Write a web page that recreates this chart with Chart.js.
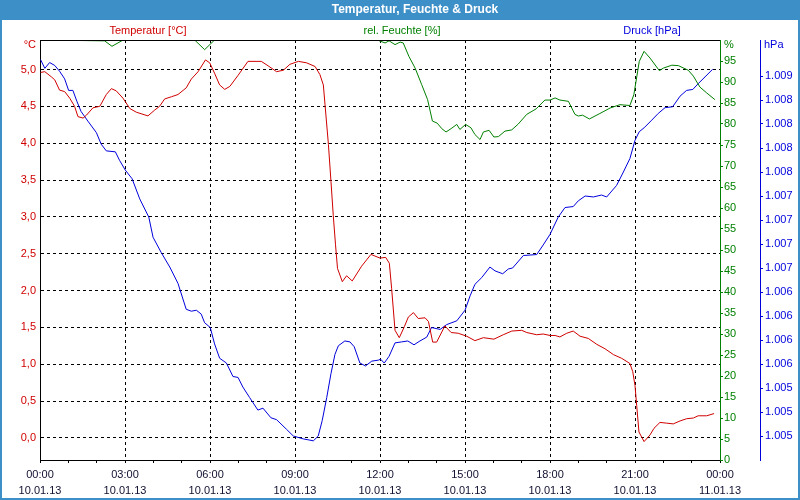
<!DOCTYPE html>
<html>
<head>
<meta charset="utf-8">
<title>Temperatur, Feuchte & Druck</title>
<script src="https://cdn.jsdelivr.net/npm/chart.js@4.4.0/dist/chart.umd.min.js"></script>
<style>
  html, body { margin: 0; padding: 0; background: #fff; }
  #box { width: 800px; height: 500px; }
  canvas { display: block; }
</style>
</head>
<body>
<div id="box"><canvas id="wetterChart" width="800" height="500"></canvas></div>
<script>
// time axis: hours since 10.01.13 00:00
const hourTicks = [0,1,2,3,4,5,6,7,8,9,10,11,12,13,14,15,16,17,18,19,20,21,22,23,24];
const timeLabels = ["00:00","03:00","06:00","09:00","12:00","15:00","18:00","21:00","00:00"];
const dateLabels = ["10.01.13","10.01.13","10.01.13","10.01.13","10.01.13","10.01.13","10.01.13","10.01.13","11.01.13"];

const tempTicks = [0,0.5,1,1.5,2,2.5,3,3.5,4,4.5,5];
const humTicks = [0,5,10,15,20,25,30,35,40,45,50,55,60,65,70,75,80,85,90,95];
const pressTicks = [1004.75,1005,1005.25,1005.5,1005.75,1006,1006.25,1006.5,1006.75,1007,1007.25,1007.5,1007.75,1008,1008.25,1008.5];

// Temperatur [°C]
const tempHours = [0.02,0.17,0.40,0.52,0.69,0.87,1.05,1.22,1.34,1.52,1.64,1.87,2.11,2.34,2.52,2.69,2.93,3.17,3.40,3.81,
  4.05,4.22,4.40,4.64,4.87,5.16,5.34,5.58,5.84,5.99,6.16,6.34,6.52,6.70,6.99,7.34,7.81,8.05,8.35,8.59,
  8.82,9.12,9.41,9.71,9.88,10.0,10.06,10.18,10.27,10.35,10.43,10.50,10.67,10.82,11.02,11.35,11.68,12.0,12.20,12.33,
  12.41,12.53,12.68,12.86,13.0,13.18,13.35,13.59,13.71,13.86,14.0,14.29,14.51,14.76,15.06,15.35,15.65,16.02,16.35,16.65,
  17.0,17.18,17.53,17.76,18.0,18.18,18.35,18.59,18.82,19.06,19.35,19.65,19.94,20.24,20.53,20.82,20.92,21.0,21.06,21.14,
  21.32,21.53,21.67,21.88,22.12,22.35,22.59,22.82,23.06,23.23,23.53,23.79];
const tempValues = [4.96,4.97,4.90,4.86,4.72,4.70,4.61,4.50,4.36,4.34,4.38,4.48,4.50,4.66,4.74,4.71,4.61,4.47,4.42,4.37,
  4.45,4.50,4.60,4.63,4.66,4.75,4.87,4.97,5.13,5.09,4.95,4.79,4.73,4.77,4.92,5.11,5.11,5.05,4.97,4.99,
  5.07,5.11,5.09,5.04,4.93,4.79,4.52,3.98,3.48,3.02,2.62,2.30,2.12,2.20,2.13,2.33,2.49,2.44,2.45,2.37,
  2.03,1.46,1.36,1.51,1.64,1.70,1.62,1.63,1.58,1.30,1.30,1.52,1.43,1.42,1.38,1.32,1.36,1.34,1.40,1.45,
  1.46,1.43,1.40,1.41,1.39,1.39,1.37,1.42,1.45,1.38,1.35,1.27,1.21,1.13,1.08,1.01,0.90,0.71,0.44,0.08,
  -0.05,0.04,0.13,0.21,0.20,0.19,0.23,0.26,0.27,0.30,0.30,0.33];

// rel. Feuchte [%]
const humHours = [0.02,2.28,2.54,2.93,5.46,5.81,6.16,11.8,11.94,12.18,12.32,12.53,12.71,12.82,13.02,13.24,13.47,13.68,13.85,14.02,
  14.18,14.33,14.51,14.71,14.82,15.02,15.21,15.35,15.53,15.65,15.85,16.02,16.18,16.41,16.65,16.88,17.18,17.51,17.82,18.0,
  18.18,18.35,18.65,18.88,19.0,19.15,19.39,19.76,20.12,20.47,20.82,20.96,21.15,21.32,21.53,21.86,22.0,22.30,22.53,22.88,
  23.06,23.29,23.53,23.82];
const humValues = [100,99.8,98.5,100,100,97.7,100,100,99.9,99.3,99.8,98.9,99.5,99.3,96.1,93.3,89.4,85.8,80.7,80.2,
  78.9,78.1,78.9,79.9,78.7,79.9,79.1,77.5,76.3,78.1,78.5,76.9,77.0,78.3,78.6,80.0,82.3,83.6,85.7,85.7,
  86.2,85.7,85.4,82.3,81.9,82.1,81.2,82.5,83.8,84.6,84.4,87.0,94.9,97.3,95.7,92.7,93.3,94.0,93.9,92.8,
  91.4,88.8,87.4,85.8];

// Druck [hPa]
const pressHours = [0.02,0.17,0.34,0.52,0.69,0.87,1.01,1.16,1.31,1.45,1.69,1.99,2.16,2.34,2.66,2.81,3.01,3.25,3.52,3.84,
  3.99,4.28,4.58,4.87,5.16,5.34,5.52,5.69,5.81,6.01,6.16,6.34,6.58,6.81,6.99,7.16,7.40,7.69,7.87,8.15,
  8.35,8.70,8.94,9.29,9.65,9.82,9.96,10.12,10.27,10.41,10.53,10.76,10.94,11.09,11.29,11.49,11.71,11.94,12.02,12.15,
  12.32,12.53,12.76,12.98,13.20,13.41,13.65,13.82,14.12,14.35,14.71,15.0,15.18,15.35,15.59,15.88,16.06,16.33,16.53,16.68,
  17.06,17.53,17.76,18.0,18.29,18.53,18.82,19.0,19.24,19.53,19.82,20.0,20.35,20.59,20.82,21.0,21.15,21.32,21.59,21.82,
  22.06,22.33,22.59,22.82,23.04,23.23,23.47,23.74];
const pressValues = [1008.67,1008.58,1008.64,1008.61,1008.55,1008.47,1008.35,1008.35,1008.23,1008.13,1008.03,1007.91,1007.79,1007.72,1007.71,1007.62,1007.52,1007.43,1007.22,1007.03,
  1006.82,1006.66,1006.51,1006.34,1006.07,1006.05,1006.06,1006.02,1005.93,1005.88,1005.71,1005.56,1005.51,1005.37,1005.36,1005.26,1005.15,1005.02,1005.04,1004.94,
  1004.92,1004.82,1004.75,1004.72,1004.70,1004.75,1004.91,1005.15,1005.40,1005.60,1005.69,1005.74,1005.73,1005.68,1005.51,1005.48,1005.53,1005.54,1005.55,1005.51,
  1005.58,1005.72,1005.73,1005.74,1005.70,1005.74,1005.78,1005.88,1005.86,1005.91,1005.95,1006.06,1006.21,1006.33,1006.40,1006.51,1006.47,1006.44,1006.49,1006.50,
  1006.63,1006.64,1006.74,1006.85,1007.03,1007.13,1007.14,1007.20,1007.25,1007.24,1007.26,1007.24,1007.36,1007.50,1007.64,1007.83,1007.92,1007.96,1008.04,1008.11,
  1008.17,1008.18,1008.29,1008.35,1008.36,1008.42,1008.49,1008.57];

const RED = "#d00000";
const GREEN = "#008000";
const BLUE = "#0000dd";
const BAR = "#3d8fc8";
const FONT = "'Liberation Sans', Arial, sans-serif";

Chart.defaults.font.family = FONT;
Chart.defaults.font.size = 11;

function toPoints(hours, values) {
  return hours.map((h, i) => ({ x: h, y: values[i] }));
}

function fixTicks(list) {
  return (scale) => {
    scale.ticks = list.map((v) => ({ value: v }));
  };
}

function formatPressure(v) {
  const r = Math.round(v);
  return Math.floor(r / 1000) + "." + String(r % 1000).padStart(3, "0");
}

// title bar, frame and the text above the plot
const framePlugin = {
  id: "frame",
  beforeDraw(chart) {
    const ctx = chart.ctx;
    ctx.save();
    ctx.fillStyle = "#fff";
    ctx.fillRect(0, 0, chart.width, chart.height);
    ctx.fillStyle = BAR;
    ctx.fillRect(0, 0, chart.width, 20);
    ctx.fillRect(0, 0, 2, chart.height);
    ctx.fillRect(chart.width - 2, 0, 2, chart.height);
    ctx.fillRect(0, chart.height - 2, chart.width, 2);
    ctx.restore();
  },
  afterDatasetsDraw(chart) {
    const a = chart.chartArea;
    const ctx = chart.ctx;
    ctx.save();
    ctx.strokeStyle = "#000";
    ctx.lineWidth = 1;
    ctx.beginPath();
    ctx.moveTo(a.left, a.top + 0.5);
    ctx.lineTo(a.right, a.top + 0.5);
    ctx.stroke();
    ctx.restore();
  },
  afterDraw(chart) {
    const ctx = chart.ctx;
    ctx.save();
    ctx.textBaseline = "middle";
    ctx.fillStyle = "#fff";
    ctx.textAlign = "center";
    ctx.font = "bold 12px " + FONT;
    ctx.fillText("Temperatur, Feuchte & Druck", 415, 10);

    ctx.font = "11px " + FONT;
    ctx.fillStyle = RED;
    ctx.fillText("Temperatur [°C]", 148, 31);
    ctx.fillStyle = GREEN;
    ctx.fillText("rel. Feuchte [%]", 402, 31);
    ctx.fillStyle = BLUE;
    ctx.fillText("Druck [hPa]", 652, 31);

    ctx.textAlign = "right";
    ctx.fillStyle = RED;
    ctx.fillText("°C", 36, 45);
    ctx.textAlign = "left";
    ctx.fillStyle = GREEN;
    ctx.fillText("%", 724, 45);
    ctx.fillStyle = BLUE;
    ctx.fillText("hPa", 764, 45);
    ctx.restore();
  },
};

document.addEventListener("DOMContentLoaded", function () {
  const canvas = document.getElementById("wetterChart");
  new Chart(canvas.getContext("2d"), {
    type: "line",
    data: {
      datasets: [
        {
          label: "Temperatur [°C]",
          data: toPoints(tempHours, tempValues),
          yAxisID: "y",
          borderColor: RED,
        },
        {
          label: "rel. Feuchte [%]",
          data: toPoints(humHours, humValues),
          yAxisID: "y1",
          borderColor: GREEN,
        },
        {
          label: "Druck [hPa]",
          data: toPoints(pressHours, pressValues),
          yAxisID: "y2",
          borderColor: BLUE,
        },
      ],
    },
    options: {
      responsive: false,
      devicePixelRatio: 1,
      animation: false,
      layout: { padding: { top: 40, left: 0, right: 0, bottom: 0 } },
      datasets: {
        line: { borderWidth: 1, pointRadius: 0, tension: 0, fill: false, clip: 0 },
      },
      plugins: {
        legend: { display: false },
        tooltip: { enabled: false },
      },
      scales: {
        x: {
          type: "linear",
          position: "bottom",
          min: 0,
          max: 24,
          afterBuildTicks: fixTicks(hourTicks),
          afterFit: (s) => { s.height = 40; },
          grid: {
            color: (c) =>
              c.tick && c.tick.value % 3 === 0 && c.tick.value > 0 && c.tick.value < 24
                ? "#000"
                : "rgba(0,0,0,0)",
            tickColor: "#000",
            tickLength: 3,
          },
          border: { color: "#000", dash: [3, 3] },
          ticks: {
            autoSkip: false,
            maxRotation: 0,
            padding: 4,
            color: "#101030",
            font: { size: 11, lineHeight: "16px" },
            callback: (v) => {
              if (v % 3 !== 0) return "";
              const i = v / 3;
              return [timeLabels[i], dateLabels[i]];
            },
          },
        },
        y: {
          position: "left",
          min: -0.3,
          max: 5.4,
          afterBuildTicks: fixTicks(tempTicks),
          afterFit: (s) => { s.width = 40; },
          grid: { color: "#000", drawTicks: false },
          border: { color: "#000", dash: [3, 3] },
          ticks: {
            color: RED,
            padding: 4,
            callback: (v) => v.toFixed(1).replace(".", ","),
          },
        },
        y1: {
          position: "right",
          weight: 0,
          min: 0,
          max: 100,
          afterBuildTicks: fixTicks(humTicks),
          afterFit: (s) => { s.width = 40; },
          grid: { drawOnChartArea: false, color: GREEN, tickLength: 3 },
          border: { color: GREEN },
          ticks: { color: GREEN, padding: 1 },
        },
        y2: {
          position: "right",
          weight: 1,
          min: 1004.5,
          max: 1008.875,
          afterBuildTicks: fixTicks(pressTicks),
          afterFit: (s) => { s.width = 40; },
          grid: { drawOnChartArea: false, color: BLUE, tickLength: 3 },
          border: { color: BLUE },
          ticks: { color: BLUE, padding: 2, callback: formatPressure },
        },
      },
    },
    plugins: [framePlugin],
  });
});
</script>
</body>
</html>
